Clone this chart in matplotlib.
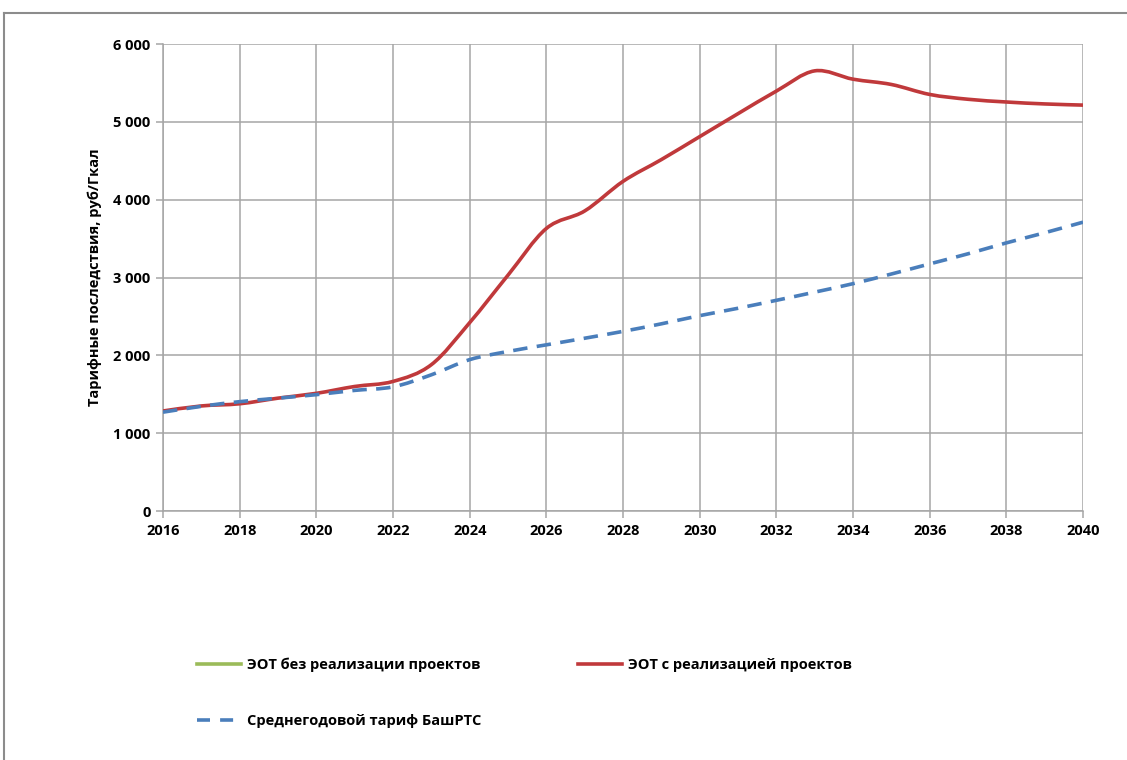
import matplotlib
matplotlib.use("Agg")
import matplotlib.pyplot as plt
from matplotlib.lines import Line2D
from matplotlib.patches import PathPatch
from matplotlib.path import Path
from matplotlib.ticker import FuncFormatter, MultipleLocator

plt.rcParams["font.family"] = ["Open Sans", "DejaVu Sans"]

YEARS = list(range(2016, 2041))

# tariff consequences, rub/Gcal
TARIFF_NO_PROJECTS = []
TARIFF_WITH_PROJECTS = [
    1285, 1350, 1378, 1450, 1512, 1600, 1665, 1880, 2420, 3030,
    3630, 3855, 4235, 4515, 4810, 5105, 5395, 5655, 5548, 5480,
    5352, 5290, 5255, 5230, 5215,
]
TARIFF_BASHRTS = [
    1270, 1345, 1405, 1450, 1495, 1550, 1595, 1750, 1945, 2050,
    2135, 2220, 2308, 2405, 2510, 2605, 2707, 2812, 2921, 3045,
    3175, 3305, 3445, 3575, 3711,
]

LABEL_NO_PROJECTS = "ЭОТ без реализации проектов"
LABEL_WITH_PROJECTS = "ЭОТ с реализацией проектов"
LABEL_BASHRTS = "Среднегодовой тариф БашРТС"
Y_LABEL = "Тарифные последствия, руб/Гкал"

RED = "#c0393b"
BLUE = "#4a7ebb"
GREEN = "#9bbb59"
GRID = "#a6a6a6"


def smooth_path(xs, ys):
    """Bezier path through the points, Excel-style smoothed line."""
    pts = list(zip(xs, ys))
    verts = [pts[0]]
    codes = [Path.MOVETO]
    n = len(pts)
    for i in range(n - 1):
        p0 = pts[i - 1] if i > 0 else pts[i]
        p1 = pts[i]
        p2 = pts[i + 1]
        p3 = pts[i + 2] if i + 2 < n else pts[i + 1]
        c1 = (p1[0] + (p2[0] - p0[0]) / 6, p1[1] + (p2[1] - p0[1]) / 6)
        c2 = (p2[0] - (p3[0] - p1[0]) / 6, p2[1] - (p3[1] - p1[1]) / 6)
        verts += [c1, c2, p2]
        codes += [Path.CURVE4] * 3
    return Path(verts, codes)


def add_series(ax, ys, color, style):
    if not ys:
        return
    patch = PathPatch(smooth_path(YEARS, ys), facecolor="none", edgecolor=color,
                      lw=2.6, linestyle=style, capstyle="butt", zorder=3)
    ax.add_patch(patch)


fig = plt.figure(figsize=(11.27, 7.6), dpi=100)
ax = fig.add_axes([0.1446, 0.3276, 0.8164, 0.6145])

add_series(ax, TARIFF_NO_PROJECTS, GREEN, "-")
add_series(ax, TARIFF_WITH_PROJECTS, RED, "-")
add_series(ax, TARIFF_BASHRTS, BLUE, (0, (4, 2.6)))

ax.set_xlim(2016, 2040)
ax.set_ylim(0, 6000)
ax.xaxis.set_major_locator(MultipleLocator(2))
ax.yaxis.set_major_locator(MultipleLocator(1000))
ax.yaxis.set_major_formatter(FuncFormatter(lambda v, _: f"{int(v):,}".replace(",", " ")))
ax.grid(True, color=GRID, lw=1.1)
ax.set_axisbelow(True)
for side in ("top", "right"):
    ax.spines[side].set_visible(False)
for side in ("left", "bottom"):
    ax.spines[side].set_color(GRID)
    ax.spines[side].set_linewidth(1.1)
ax.tick_params(length=5, width=1.1, color=GRID, labelsize=10.5, pad=4)
for lbl in ax.get_xticklabels() + ax.get_yticklabels():
    lbl.set_fontweight("bold")
ax.set_ylabel(Y_LABEL, fontsize=10.5, fontweight="bold", labelpad=8)

handles = [
    Line2D([], [], color=GREEN, lw=2.6),
    Line2D([], [], color=BLUE, lw=2.6, linestyle=(0, (3.6, 2.8))),
    Line2D([], [], color=RED, lw=2.6),
]
labels = [LABEL_NO_PROJECTS, LABEL_BASHRTS, LABEL_WITH_PROJECTS]
fig.legend(handles, labels, loc="upper left", bbox_to_anchor=(0.163, 0.152),
           bbox_transform=fig.transFigure, ncol=2, frameon=False,
           prop={"size": 10.5, "weight": "bold"}, handlelength=3.05,
           handletextpad=0.4, columnspacing=6.6, labelspacing=2.85)

# outer frame, top and left edges
fig.add_artist(Line2D([4 / 1127, 1], [1 - 13 / 760] * 2, color="#8c8c8c", lw=1.5))
fig.add_artist(Line2D([4 / 1127] * 2, [0, 1 - 13 / 760], color="#8c8c8c", lw=1.5))

fig.savefig("out.png", dpi=100)
